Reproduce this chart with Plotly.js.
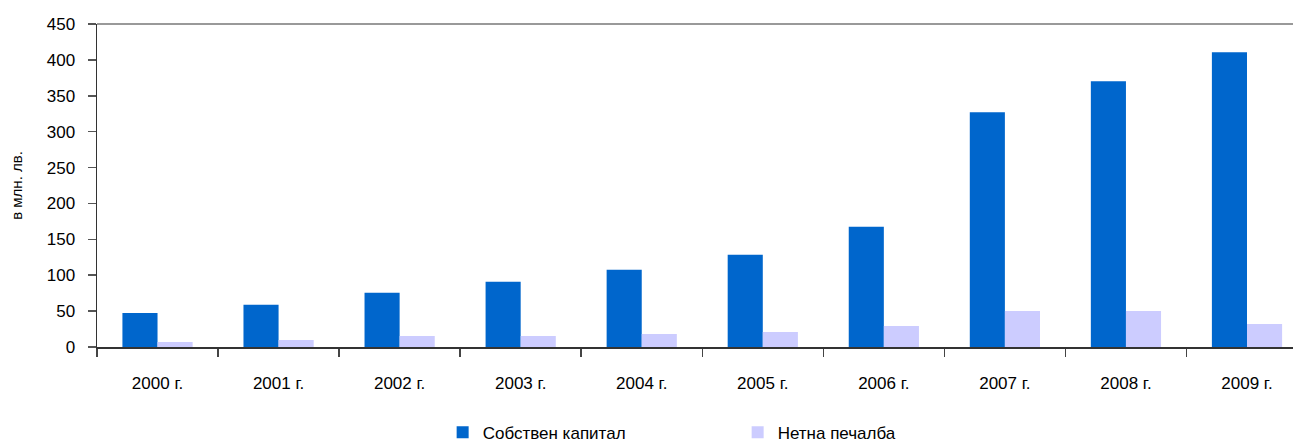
<!DOCTYPE html>
<html>
<head>
<meta charset="utf-8">
<script src="https://cdn.plot.ly/plotly-3.0.1.min.js"></script>
<style>html,body{margin:0;padding:0;background:#fff;}#chart{width:1293px;height:443px;}</style>
</head>
<body>
<div id="chart"></div>
<script>
const years = ["2000 г.", "2001 г.", "2002 г.", "2003 г.", "2004 г.", "2005 г.", "2006 г.", "2007 г.", "2008 г.", "2009 г."];
const equity = [47.5, 58.7, 75.5, 90.8, 107.6, 128.6, 167.7, 327, 370.3, 410.8];
const netProfit = [7, 9.8, 15.4, 15.4, 18.2, 21, 29.3, 50.3, 50.3, 32.1];
const yTicks = [0, 50, 100, 150, 200, 250, 300, 350, 400, 450];

const font = {family: "Liberation Sans, Arial, sans-serif", size: 17, color: "#000"};

const data = [
  {type: "bar", name: "Собствен капитал", x: years, y: equity, marker: {color: "#0066CC"}, hoverinfo: "x+y"},
  {type: "bar", name: "Нетна печалба", x: years, y: netProfit, marker: {color: "#CCCCFF"}, hoverinfo: "x+y"}
];

const layout = {
  width: 1293, height: 443,
  margin: {l: 97, r: 0, t: 24, b: 96, autoexpand: false},
  paper_bgcolor: "#fff", plot_bgcolor: "#fff",
  font: font,
  barmode: "group", bargap: 0.42, bargroupgap: 0,
  xaxis: {
    type: "category",
    range: [-0.5, 9.38],
    showline: true, linecolor: "#333", linewidth: 1.5,
    ticks: "outside", tickson: "boundaries", ticklen: 8, tickcolor: "#444", tickwidth: 1.5,
    ticklabelstandoff: 20,
    showgrid: false, zeroline: false,
    tickfont: font
  },
  yaxis: {
    range: [0, 450],
    tickvals: yTicks,
    ticktext: yTicks.map(String),
    showline: true, linecolor: "#333", linewidth: 1.5,
    ticks: "outside", ticklen: 8, tickcolor: "#555", tickwidth: 1.5,
    ticklabelstandoff: 9,
    showgrid: false, zeroline: false,
    tickfont: font,
    title: {text: "в млн. лв.", font: {family: font.family, size: 15, color: "#000"}, standoff: 20}
  },
  shapes: [
    {type: "line", xref: "paper", yref: "paper", x0: 0, x1: 1, y0: 1, y1: 1, line: {color: "#999", width: 2}}
  ],
  legend: {
    orientation: "h",
    x: 0.289, xanchor: "left",
    yref: "container",
    y: 0.023, yanchor: "middle",
    entrywidth: 250, entrywidthmode: "pixels",
    font: font,
    itemclick: false
  },
  showlegend: true
};

Plotly.newPlot("chart", data, layout, {displayModeBar: false, staticPlot: true});
</script>
</body>
</html>
